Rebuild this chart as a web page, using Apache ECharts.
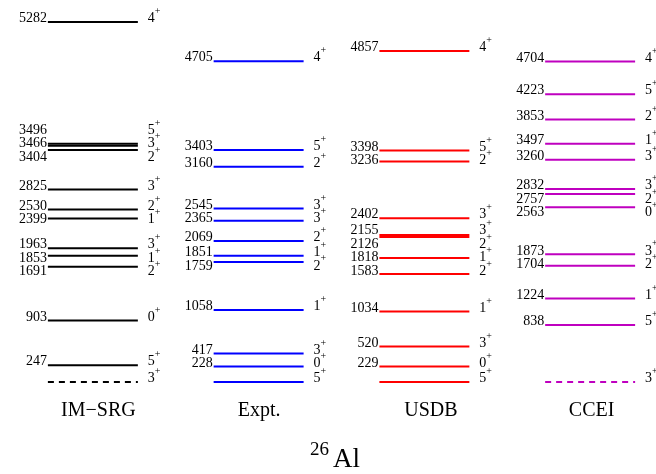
<!DOCTYPE html>
<html>
<head>
<meta charset="utf-8">
<script src="https://cdn.jsdelivr.net/npm/echarts@6/dist/echarts.min.js"></script>
<style>html,body{margin:0;padding:0;background:#fff;}#chart{width:656px;height:474px;}</style>
</head>
<body>
<div id="chart"></div>
<script>
// ---- data ----
const columns = ['IM\u2212SRG', 'Expt.', 'USDB', 'CCEI'];
const imsrgEnergies = [0, 247, 903, 1691, 1853, 1963, 2399, 2530, 2825, 3404, 3466, 3496, 5282];
const imsrgSpins    = [3, 5, 0, 2, 1, 3, 1, 2, 3, 2, 3, 5, 4];
const exptEnergies  = [0, 228, 417, 1058, 1759, 1851, 2069, 2365, 2545, 3160, 3403, 4705];
const exptSpins     = [5, 0, 3, 1, 2, 1, 2, 3, 3, 2, 5, 4];
const usdbEnergies  = [0, 229, 520, 1034, 1583, 1818, 2126, 2155, 2402, 3236, 3398, 4857];
const usdbSpins     = [5, 0, 3, 1, 2, 1, 2, 3, 3, 2, 5, 4];
const cceiEnergies  = [0, 838, 1224, 1704, 1873, 2563, 2757, 2832, 3260, 3497, 3853, 4223, 4704];
const cceiSpins     = [3, 5, 1, 2, 3, 0, 2, 3, 3, 1, 2, 5, 4];
const parity = '+';

// ---- style ----
const FONT = '"Liberation Serif", "DejaVu Serif", serif';
const LINE_FRAC = 0.2714;
const GAP = 13.5;
const RAISE = 3.5;
const MAX_DROP = 10.5;
const nameShift = [11, 1, 13, 3]; // left padding of column names (px)

// label de-overlap: push down, then lift clusters that drifted too far
function spread(ys, gap) {
  const order = ys.map((y, i) => i).sort((a, b) => ys[a] - ys[b]);
  const pos = [];
  const clusters = [];
  let prev = -Infinity;
  order.forEach(id => {
    let y = ys[id];
    if (y < prev + gap) {
      y = prev + gap;
      clusters[clusters.length - 1].push(id);
    } else {
      clusters.push([id]);
    }
    pos[id] = y;
    prev = y;
  });
  clusters.forEach(cl => {
    let maxDrop = 0;
    cl.forEach(id => { maxDrop = Math.max(maxDrop, pos[id] - ys[id]); });
    if (maxDrop > MAX_DROP) {
      const s = maxDrop - MAX_DROP;
      cl.forEach(id => { pos[id] -= s; });
    }
  });
  return pos;
}

function makeSeries(colIdx, energies, spins, color, dashedGround) {
  return {
    type: 'custom',
    coordinateSystem: 'cartesian2d',
    data: energies.map((e, i) => [colIdx, e, spins[i]]),
    encode: { x: 0, y: 1 },
    clip: false,
    renderItem: function (params, api) {
      const i = params.dataIndex;
      const c = api.value(0), e = api.value(1), j = api.value(2);
      const band = api.size([1, 0])[0];
      const half = band * LINE_FRAC;
      const p = api.coord([c, e]);
      const ys = energies.map(v => api.coord([c, v])[1] - RAISE);
      const ly = spread(ys, GAP)[i];
      const x0 = p[0] - half, x1 = p[0] + half;
      const children = [{
        type: 'line',
        shape: { x1: x0, y1: p[1], x2: x1, y2: p[1] },
        style: { stroke: color, lineWidth: 2, lineDash: (dashedGround && e === 0) ? [6, 5] : null }
      }];
      if (e > 0) {
        children.push({ type: 'text', style: { text: String(e), x: x0 - 1, y: ly, align: 'right', verticalAlign: 'middle', fontSize: 14, fontFamily: FONT, fill: '#000' } });
      }
      children.push({ type: 'text', style: { text: String(j), x: x1 + 10, y: ly, align: 'left', verticalAlign: 'middle', fontSize: 14, fontFamily: FONT, fill: '#000' } });
      children.push({ type: 'text', style: { text: parity, x: x1 + 17, y: ly - 7, align: 'left', verticalAlign: 'middle', fontSize: 10, fontFamily: FONT, fill: '#000' } });
      return { type: 'group', children: children };
    }
  };
}

const chart = echarts.init(document.getElementById('chart'), null, { renderer: 'canvas' });
chart.setOption({
  backgroundColor: '#fff',
  animation: false,
  grid: { left: 10, width: 663, top: 22, bottom: 92, containLabel: false, outerBoundsMode: 'none' },
  xAxis: {
    type: 'category',
    data: columns.map((name, k) => ({ value: name, textStyle: { padding: [0, 0, 0, nameShift[k]] } })),
    axisLine: { show: false },
    axisTick: { show: false },
    splitLine: { show: false },
    axisLabel: { color: '#000', fontFamily: FONT, fontSize: 20, margin: 19 }
  },
  yAxis: { type: 'value', min: 0, max: 5282, show: false },
  graphic: [
    { type: 'text', left: 310, top: 441, style: { text: '26', fontSize: 19, fontFamily: FONT, fill: '#000' } },
    { type: 'text', left: 333, top: 446, style: { text: 'Al', fontSize: 27, fontFamily: FONT, fill: '#000' } }
  ],
  series: [
    makeSeries(0, imsrgEnergies, imsrgSpins, '#000000', true),
    makeSeries(1, exptEnergies, exptSpins, '#0000ff', false),
    makeSeries(2, usdbEnergies, usdbSpins, '#ff0000', false),
    makeSeries(3, cceiEnergies, cceiSpins, '#bf00bf', true)
  ]
});
</script>
</body>
</html>
